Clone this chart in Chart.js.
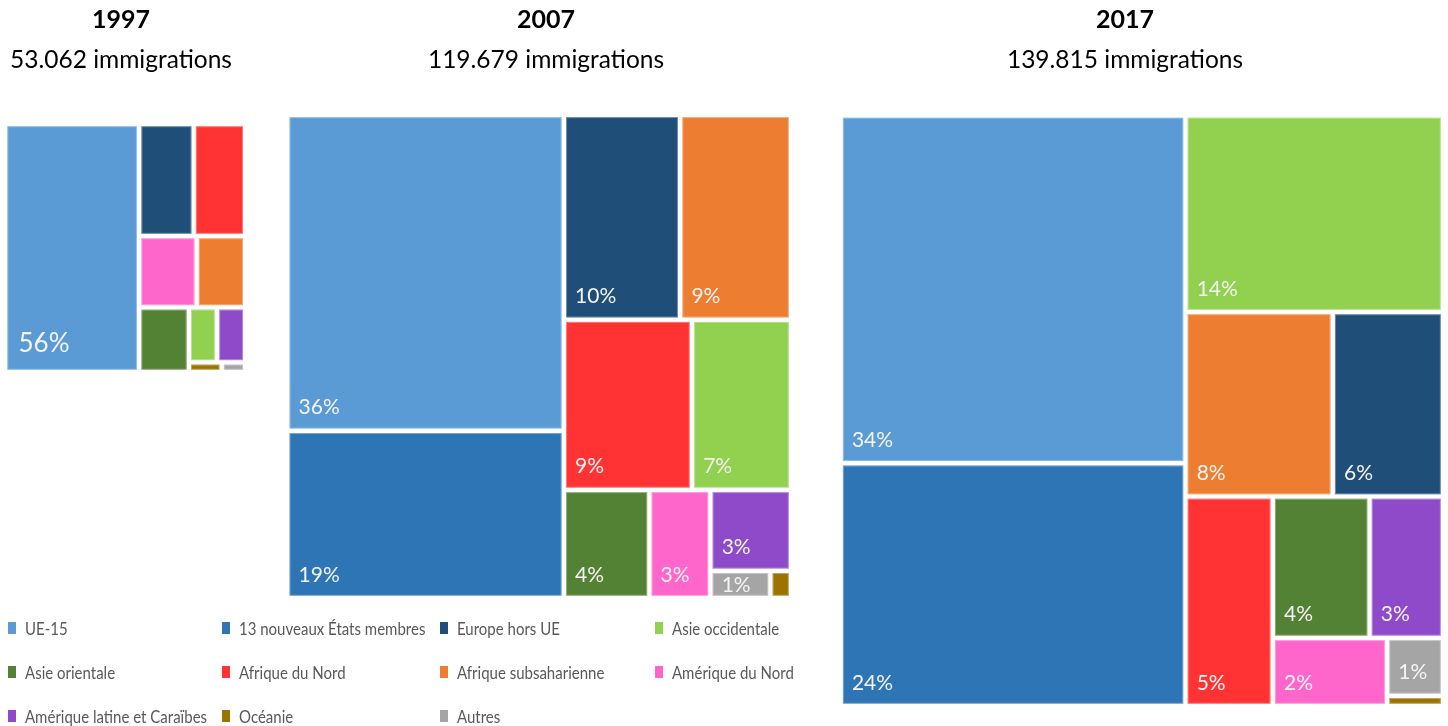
<!DOCTYPE html>
<html lang="fr">
<head>
<meta charset="utf-8">
<title>Immigrations par région d'origine – 1997, 2007, 2017</title>
<script src="https://cdn.jsdelivr.net/npm/chart.js@4.4.1/dist/chart.umd.min.js"></script>
<style>
  html, body { margin: 0; padding: 0; background: #fff; }
  body { width: 1448px; height: 726px; position: relative; overflow: hidden; font-family: Lato, sans-serif; }
  .chart { position: absolute; top: 0; }
  #legend { position: absolute; left: 8px; top: 606px; display: grid;
            grid-template-columns: 214px 218px 215px 160px; grid-auto-rows: 44px; }
  .item { display: flex; align-items: center; font-size: 15px; color: #595959; white-space: nowrap; }
  .item i { display: inline-block; width: 8px; height: 12px; margin-right: 9px; }
  .item span { display: inline-block; transform: scaleY(1.18); }
</style>
</head>
<body>
<div class="chart" style="left:-4px;width:250px;height:372px"><canvas id="c1997"></canvas></div>
<div class="chart" style="left:287px;width:518px;height:598px"><canvas id="c2007"></canvas></div>
<div class="chart" style="left:807px;width:636px;height:706px"><canvas id="c2017"></canvas></div>
<div id="legend"></div>

<script>
// regions, in legend order
const categories = ['UE-15', '13 nouveaux États membres', 'Europe hors UE', 'Asie occidentale',
  'Asie orientale', 'Afrique du Nord', 'Afrique subsaharienne', 'Amérique du Nord',
  'Amérique latine et Caraïbes', 'Océanie', 'Autres'];
const colors = ['#5B9BD5', '#2E75B6', '#1F4E79', '#92D050', '#548235', '#FF3333',
  '#ED7D31', '#FF66CC', '#8E4AC8', '#9C7300', '#A5A5A5'];

const years = ['1997', '2007', '2017'];
const totals = [53062, 119679, 139815];

// share of the year's immigrations (%), same order as categories
const share1997 = [55.8, 0, 10.25, 2.6, 5.39, 9.69, 5.81, 6.89, 2.6, 0.53, 0.38];
const share2007 = [35.9, 19.0, 9.79, 6.93, 3.8, 8.96, 9.33, 2.71, 2.68, 0.23, 0.67];
const share2017 = [33.71, 23.53, 5.72, 14.23, 3.85, 5.14, 7.64, 2.19, 2.92, 0.16, 0.91];

const fmt = n => String(n).replace(/\B(?=(\d{3})+(?!\d))/g, '.');

// worst aspect ratio of a strip laid along `side`
function worst(row, sum, side, unit) {
  const thick = sum * unit / side;
  let r = 0;
  row.forEach(d => {
    const len = d.value / sum * side;
    r = Math.max(r, thick / len, len / thick);
  });
  return r;
}

// squarified layout in a w x h box, items sorted by value
function squarify(items, w, h) {
  const out = [];
  let x = 0, y = 0;
  let rest = items.reduce((s, d) => s + d.value, 0);
  let i = 0;
  while (i < items.length) {
    const column = w >= h;
    const side = column ? h : w;
    const unit = w * h / rest;
    const row = [items[i]];
    let sum = items[i].value;
    let best = worst(row, sum, side, unit);
    let j = i + 1;
    while (j < items.length) {
      const r = worst(row.concat(items[j]), sum + items[j].value, side, unit);
      if (r > best) break;
      row.push(items[j]); sum += items[j].value; best = r; j++;
    }
    const thick = sum * unit / side;
    let pos = 0;
    row.forEach(d => {
      const len = d.value / sum * side;
      if (column) out.push({ d, x, y: y + pos, w: thick, h: len });
      else out.push({ d, x: x + pos, y, w: len, h: thick });
      pos += len;
    });
    if (column) { x += thick; w -= thick; } else { y += thick; h -= thick; }
    rest -= sum;
    i = j;
  }
  return out;
}

const treemapPlugin = {
  id: 'treemap',
  afterDatasetsDraw(chart, args, opts) {
    const { ctx } = chart;
    const xs = chart.scales.x, ys = chart.scales.y;
    const stretch = opts.stretch;
    // layout box in stretched units, then back through the scales
    const boxW = (xs.getPixelForValue(100) - xs.getPixelForValue(0)) * stretch;
    const boxH = ys.getPixelForValue(100) - ys.getPixelForValue(0);
    const total = opts.shares.reduce((s, v) => s + v, 0);
    const items = categories
      .map((name, i) => ({ name, color: colors[i], value: opts.shares[i] }))
      .filter(d => d.value > 0)
      .sort((a, b) => b.value - a.value);
    const cells = squarify(items, boxW, boxH);
    const g = opts.gap / 2;
    const size = opts.labelSize;
    const padX = size * 0.43, offY = size * 0.68, cap = size * 0.72;

    ctx.save();
    ctx.font = size + 'px Lato';
    ctx.textBaseline = 'alphabetic';
    cells.forEach(c => {
      const left = xs.getPixelForValue(c.x / boxW * 100) + g;
      const right = xs.getPixelForValue((c.x + c.w) / boxW * 100) - g;
      const top = ys.getPixelForValue(c.y / boxH * 100) + g;
      const bottom = ys.getPixelForValue((c.y + c.h) / boxH * 100) - g;
      ctx.fillStyle = c.d.color;
      ctx.fillRect(left, top, right - left, bottom - top);
      ctx.strokeStyle = 'rgba(255,255,255,0.35)';
      ctx.lineWidth = 1;
      ctx.strokeRect(left + 0.5, top + 0.5, right - left - 1, bottom - top - 1);

      const label = Math.round(c.d.value / total * 100) + '%';
      const tw = ctx.measureText(label).width;
      if (tw + 2 * padX > right - left || bottom - top < cap + 4) return;
      let base = bottom - offY;
      if (base - cap < top + 4) base = Math.min(bottom - 2, top + cap + 4);
      ctx.fillStyle = '#F4F4F4';
      ctx.fillText(label, left + padX, base);
    });
    ctx.restore();
  }
};

// builds the shared legend below the charts
const htmlLegend = {
  id: 'htmlLegend',
  afterUpdate(chart, args, opts) {
    const box = document.getElementById(opts.containerID);
    box.innerHTML = '';
    categories.forEach((name, i) => {
      const item = document.createElement('div');
      item.className = 'item';
      const mark = document.createElement('i');
      mark.style.background = colors[i];
      const text = document.createElement('span');
      text.textContent = name;
      item.appendChild(mark);
      item.appendChild(text);
      box.appendChild(item);
    });
  }
};

function makeChart(id, k, shares, frame) {
  const span = frame.right - frame.left;
  return new Chart(document.getElementById(id), {
    type: 'scatter',
    data: { datasets: [] },
    options: {
      responsive: true,
      maintainAspectRatio: false,
      animation: false,
      events: [],
      layout: { padding: 0 },
      scales: {
        x: { type: 'linear', display: false,
             min: -frame.left / span * 100, max: (frame.width - frame.left) / span * 100 },
        y: { type: 'linear', display: false, min: 0, max: 100, reverse: true }
      },
      plugins: {
        legend: { display: false },
        tooltip: { enabled: false },
        title: {
          display: true, text: years[k], color: '#000',
          font: { family: 'Lato', size: 25, weight: 'bold' },
          padding: { top: 5, bottom: 10 }
        },
        subtitle: {
          display: true, text: fmt(totals[k]) + ' immigrations', color: '#000',
          font: { family: 'Lato', size: 24.5 },
          padding: { top: 0, bottom: frame.below }
        },
        treemap: { shares, stretch: frame.stretch, gap: 4.4, labelSize: frame.labelSize },
        htmlLegend: { containerID: 'legend' }
      }
    },
    plugins: k === 1 ? [treemapPlugin, htmlLegend] : [treemapPlugin]
  });
}

makeChart('c1997', 0, share1997, { width: 250, left: 9.1, right: 249.2, below: 49.6, stretch: 1.11, labelSize: 26 });
makeChart('c2007', 1, share2007, { width: 518, left: 0.3, right: 504, below: 40.5, stretch: 1.0, labelSize: 21 });
makeChart('c2017', 2, share2017, { width: 636, left: 33.7, right: 636, below: 41.1, stretch: 1.2, labelSize: 21 });
</script>
</body>
</html>
